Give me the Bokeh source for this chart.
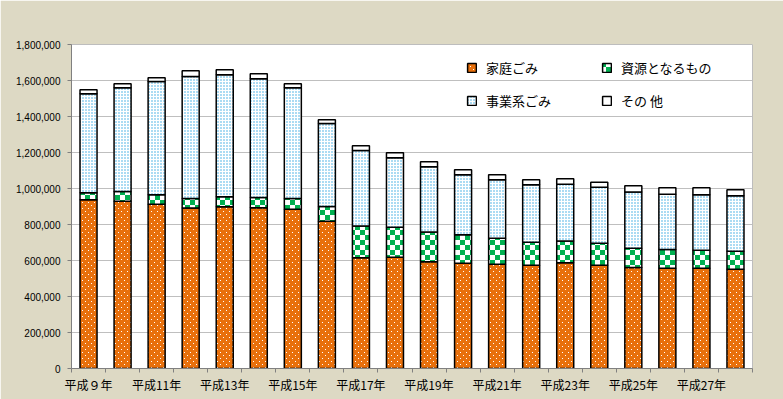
from bokeh.plotting import figure
from bokeh.models import (ColumnDataSource, FixedTicker, NumeralTickFormatter, Range1d,
                          Label, Legend, LegendItem, CanvasTexture)
from bokeh.transform import stack
from bokeh.embed import file_html
from bokeh.resources import INLINE

# ---- data (tons, in thousands) ----
years = list(range(9, 29))
year_labels = ["平成９年" if y == 9 else f"平成{y}年" for y in years]
label_years = years[::2]
household = [937, 929, 913, 891, 898, 893, 885, 818, 615, 618, 593, 585, 579, 574, 587, 574, 561, 557, 557, 552]
resource = [39, 54, 52, 53, 56, 57, 59, 82, 176, 167, 166, 158, 145, 128, 122, 122, 107, 104, 100, 100]
business = [550, 577, 629, 678, 678, 660, 616, 461, 420, 386, 362, 333, 324, 319, 315, 311, 312, 307, 308, 308]
other = [22, 22, 21, 32, 28, 27, 22, 21, 26, 27, 27, 28, 28, 27, 30, 28, 35, 36, 39, 33]
series_names = ["家庭ごみ", "資源となるもの", "事業系ごみ", "その 他"]
y_ticks = list(range(0, 1800001, 200000))

BG = "#DDD9C4"
JP = "Noto Sans CJK JP"

src = ColumnDataSource(dict(
    x=years,
    household=[v * 1000 for v in household],
    resource=[v * 1000 for v in resource],
    business=[v * 1000 for v in business],
    other=[v * 1000 for v in other],
    pat_checker=["checker"] * len(years),
    pat_wdots=["wdots"] * len(years),
))

p = figure(width=783, height=399, x_range=Range1d(8.5, 28.5), y_range=Range1d(0, 1800000),
           output_backend="svg", toolbar_location=None,
           min_border_left=71, min_border_right=31, min_border_top=44, min_border_bottom=31,
           background_fill_color="white", border_fill_color=BG,
           outline_line_color="#BDBDBD")

checker = CanvasTexture(code="""
var c = ctx.canvas;
if (c && c.width !== undefined) { c.width = 10; c.height = 10; }
ctx.fillStyle = '#00B050';
ctx.fillRect(0, 0, 5, 5);
ctx.fillRect(5, 5, 5, 5);
""")

wdots = CanvasTexture(code="""
var c = ctx.canvas;
if (c && c.width !== undefined) { c.width = 6; c.height = 6; }
ctx.fillStyle = '#FFFFFF';
ctx.fillRect(1, 1, 1, 1);
ctx.fillRect(4, 4, 1, 1);
""")

keys = ["household", "resource", "business", "other"]
W = 0.5
r1 = p.vbar(x="x", bottom=stack(), top=stack(keys[0]), width=W, source=src,
            fill_color="#E8700C", hatch_pattern="pat_wdots", hatch_extra={"wdots": wdots},
            hatch_color="white", hatch_scale=6, line_color="black", line_width=1.5)
r2 = p.vbar(x="x", bottom=stack(keys[0]), top=stack(keys[0], keys[1]), width=W, source=src,
            fill_color="white", hatch_pattern="pat_checker", hatch_extra={"checker": checker},
            hatch_scale=10, hatch_color="#00B050", line_color="black", line_width=1.5)
r3 = p.vbar(x="x", bottom=stack(keys[0], keys[1]), top=stack(keys[0], keys[1], keys[2]), width=W,
            source=src, fill_color="white", hatch_pattern="dot", hatch_color="#2CA5E0",
            hatch_scale=3, hatch_weight=1, line_color="black", line_width=1.5)
r4 = p.vbar(x="x", bottom=stack(keys[0], keys[1], keys[2]), top=stack(*keys), width=W,
            source=src, fill_color="white", line_color="black", line_width=1.5)

# axes
p.xgrid.grid_line_color = None
p.ygrid.grid_line_color = "#BFBFBF"
p.ygrid.ticker = FixedTicker(ticks=y_ticks)

xa = p.xaxis[0]
xa.ticker = FixedTicker(ticks=label_years, minor_ticks=[y - 0.5 for y in years] + [years[-1] + 0.5])
xa.major_label_overrides = {y: lab for y, lab in zip(years, year_labels) if y in label_years}
xa.major_tick_out = 0
xa.major_tick_in = 0
xa.minor_tick_out = 4
xa.minor_tick_in = 0
xa.minor_tick_line_color = "#808080"
xa.axis_line_color = "#808080"
xa.major_label_standoff = 3
xa.major_label_text_font = JP
xa.major_label_text_font_size = "12px"
xa.major_label_text_color = "black"

ya = p.yaxis[0]
ya.ticker = FixedTicker(ticks=y_ticks)
ya.formatter = NumeralTickFormatter(format="0,0")
ya.major_tick_out = 4
ya.major_tick_in = 0
ya.minor_tick_line_color = None
ya.major_tick_line_color = "#808080"
ya.axis_line_color = "#808080"
ya.major_label_standoff = 7
ya.major_label_text_font = "Liberation Sans"
ya.major_label_text_font_size = "10px"
ya.major_label_text_color = "black"

# titles (screen units: from frame left / frame bottom)
p.add_layout(Label(x=321, y=351, x_units="screen", y_units="screen", text="ごみ収集量の推移",
                   text_font=JP, text_font_size="17px", text_font_style="bold",
                   text_align="center", text_baseline="middle", text_color="black"))
p.add_layout(Label(x=-28, y=350, x_units="screen", y_units="screen", text="トン(t)",
                   text_font=JP, text_font_size="11px", text_font_style="bold",
                   text_align="center", text_baseline="middle", text_color="black"))

legend = Legend(items=[LegendItem(label=series_names[0], renderers=[r1]),
                       LegendItem(label=series_names[1], renderers=[r2]),
                       LegendItem(label=series_names[2], renderers=[r3]),
                       LegendItem(label=series_names[3], renderers=[r4])],
                location=(395, 258), orientation="horizontal", ncols=2,
                glyph_width=11, glyph_height=11, label_standoff=9, label_width=102,
                label_height=20, spacing=13, padding=0, margin=0,
                border_line_color=None, background_fill_alpha=0,
                label_text_font=JP, label_text_font_size="13px", label_text_color="black")
p.add_layout(legend)

html = file_html(p, INLINE)
html = html.replace("<body>", '<body style="background-color:%s;">' % BG, 1)
open("out.html", "w").write(html)
